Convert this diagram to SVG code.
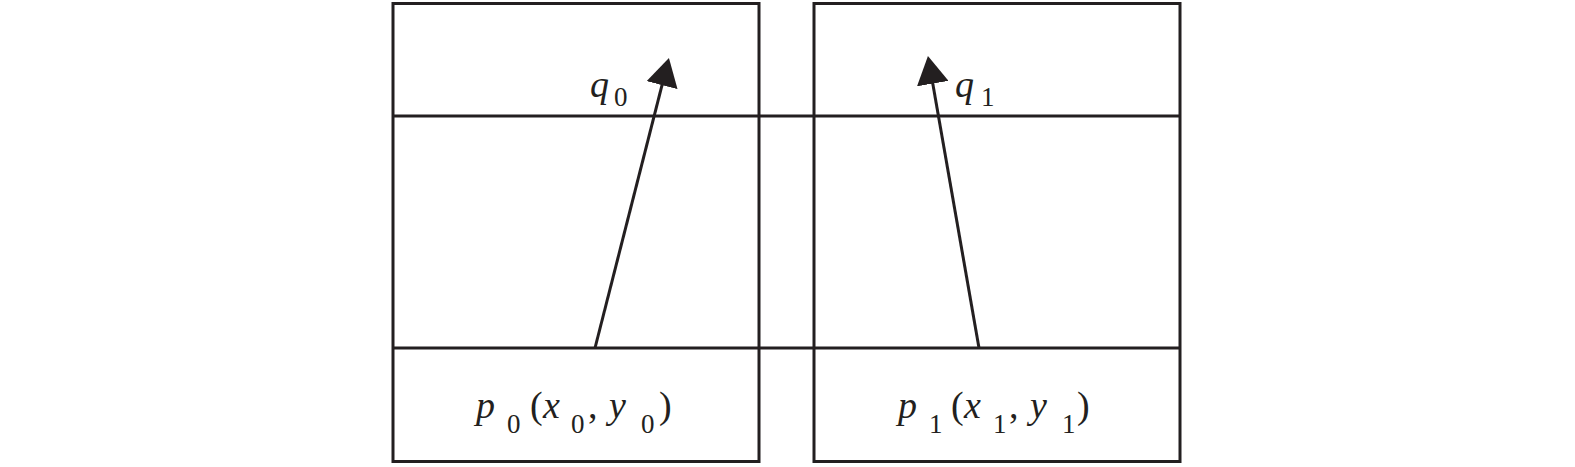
<svg xmlns="http://www.w3.org/2000/svg" width="1575" height="467" viewBox="0 0 1575 467">
<style>
.box{fill:none;stroke:#231f20;stroke-width:3}
.ln{stroke:#231f20;stroke-width:3;fill:none}
</style>
<defs>
<marker id="ah" markerUnits="userSpaceOnUse" markerWidth="28" markerHeight="32" refX="8" refY="16" orient="auto">
<path d="M0,0 L28,16 L0,32 z" fill="#231f20"/>
</marker>
</defs>
<rect fill="#fff" width="1575" height="467"/>
<g id="box0"><rect class="box" x="393" y="3.5" width="366" height="458"/></g>
<g id="box1"><rect class="box" x="814" y="3.5" width="366" height="458"/></g>
<g id="rows">
<line class="ln" x1="393" y1="116" x2="1180" y2="116"/>
<line class="ln" x1="393" y1="348" x2="1180" y2="348"/>
</g>
<g id="connectors">
<line class="ln" x1="595" y1="348" x2="664" y2="77.4" marker-end="url(#ah)"/>
<line class="ln" x1="979" y1="348" x2="931.4" y2="75.7" marker-end="url(#ah)"/>
</g>
<g id="labels" font-family="'Liberation Serif', 'Times New Roman', serif" fill="#231f20" font-size="38">
<g id="q0">
<text x="590" y="97" font-style="italic">q</text><text x="614" y="106" font-size="27">0</text>
</g>
<g id="q1">
<text x="955" y="97" font-style="italic">q</text><text x="981" y="106" font-size="27">1</text>
</g>
<g id="p0">
<text x="476" y="418" font-style="italic">p</text><text x="507" y="433" font-size="27">0</text>
<text x="530" y="418">(</text>
<text x="543" y="418" font-style="italic">x</text><text x="571" y="433" font-size="27">0</text>
<text x="588" y="418">,</text>
<text x="609" y="418" font-style="italic">y</text><text x="641" y="433" font-size="27">0</text>
<text x="659" y="418">)</text>
</g>
<g id="p1">
<text x="898" y="418" font-style="italic">p</text><text x="929" y="433" font-size="27">1</text>
<text x="951" y="418">(</text>
<text x="964" y="418" font-style="italic">x</text><text x="993" y="433" font-size="27">1</text>
<text x="1009" y="418">,</text>
<text x="1030" y="418" font-style="italic">y</text><text x="1062" y="433" font-size="27">1</text>
<text x="1077" y="418">)</text>
</g>
</g>
</svg>
